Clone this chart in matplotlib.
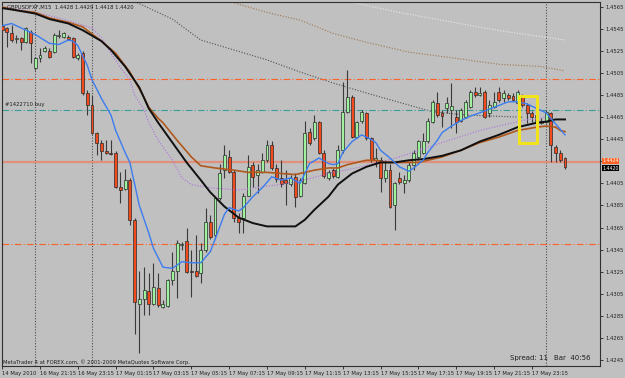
"""
Grafico de velas GBPUSD M15 al estilo MetaTrader 4.
"""

import matplotlib
matplotlib.use("Agg")
import matplotlib.pyplot as plt
import matplotlib.transforms as mtransforms
import numpy as np

# velas (una por barra de 15 minutos)
opens = [1.4548, 1.4546, 1.4541, 1.4536, 1.4537, 1.4533, 1.4542, 1.4510, 1.4519, 1.4525,
         1.4525, 1.4524, 1.4539, 1.4538, 1.4538, 1.4537, 1.4519, 1.4523, 1.4487, 1.4476,
         1.4451, 1.4442, 1.4434, 1.4433, 1.4433, 1.4402, 1.4400, 1.4408, 1.4372, 1.4296,
         1.4300, 1.4307, 1.4296, 1.4310, 1.4293, 1.4294, 1.4317, 1.4326, 1.4349, 1.4353,
         1.4326, 1.4326, 1.4324, 1.4345, 1.4370, 1.4358, 1.4392, 1.4417, 1.4429, 1.4415,
         1.4374, 1.4374, 1.4394, 1.4422, 1.4413, 1.4415, 1.4426, 1.4440, 1.4419, 1.4410,
         1.4408, 1.4404, 1.4411, 1.4394, 1.4405, 1.4452, 1.4446, 1.4461, 1.4433, 1.4410,
         1.4417, 1.4411, 1.4435, 1.4470, 1.4483, 1.4447, 1.4462, 1.4469, 1.4446, 1.4426,
         1.4426, 1.4410, 1.4417, 1.4385, 1.4410, 1.4405, 1.4408, 1.4422, 1.4429, 1.4433,
         1.4443, 1.4461, 1.4478, 1.4469, 1.4473, 1.4472, 1.4465, 1.4462, 1.4465, 1.4474,
         1.4488, 1.4485, 1.4488, 1.4469, 1.4474, 1.4488, 1.4482, 1.4485, 1.4484, 1.4478,
         1.4484, 1.4476, 1.4469, 1.4461, 1.4460, 1.4461, 1.4469, 1.4438, 1.4433, 1.4428]

highs = [1.4551, 1.4547, 1.4549, 1.4540, 1.4538, 1.4547, 1.4544, 1.4520, 1.4528, 1.4530,
         1.4528, 1.4541, 1.4544, 1.4542, 1.4540, 1.4538, 1.4523, 1.4525, 1.4490, 1.4485,
         1.4452, 1.4444, 1.4444, 1.4444, 1.4434, 1.4415, 1.4418, 1.4410, 1.4374, 1.4326,
         1.4329, 1.4324, 1.4333, 1.4324, 1.4299, 1.4318, 1.4343, 1.4354, 1.4352, 1.4365,
         1.4345, 1.4358, 1.4351, 1.4383, 1.4376, 1.4393, 1.4423, 1.4440, 1.4435, 1.4417,
         1.4378, 1.4396, 1.4431, 1.4424, 1.4423, 1.4433, 1.4444, 1.4443, 1.4423, 1.4426,
         1.4417, 1.4413, 1.4414, 1.4410, 1.4462, 1.4455, 1.4467, 1.4462, 1.4435, 1.4417,
         1.4419, 1.4440, 1.4497, 1.4508, 1.4485, 1.4462, 1.4472, 1.4470, 1.4447, 1.4437,
         1.4429, 1.4426, 1.4423, 1.4406, 1.4415, 1.4413, 1.4424, 1.4435, 1.4444, 1.4451,
         1.4464, 1.4481, 1.4488, 1.4472, 1.4483, 1.4496, 1.4472, 1.4473, 1.4481, 1.4490,
         1.4492, 1.4492, 1.4490, 1.4481, 1.4488, 1.4492, 1.4490, 1.4487, 1.4487, 1.4490,
         1.4486, 1.4478, 1.4471, 1.4469, 1.4464, 1.4472, 1.4470, 1.4440, 1.4435, 1.4429]

lows = [1.4540, 1.4529, 1.4533, 1.4532, 1.4526, 1.4532, 1.4514, 1.4508, 1.4515, 1.4524,
        1.4519, 1.4523, 1.4537, 1.4537, 1.4535, 1.4519, 1.4517, 1.4485, 1.4467, 1.4450,
        1.4431, 1.4426, 1.4432, 1.4431, 1.4401, 1.4387, 1.4399, 1.4367, 1.4268, 1.4251,
        1.4286, 1.4286, 1.4295, 1.4293, 1.4292, 1.4293, 1.4313, 1.4301, 1.4345, 1.4324,
        1.4302, 1.4320, 1.4315, 1.4343, 1.4355, 1.4355, 1.4390, 1.4410, 1.4414, 1.4370,
        1.4360, 1.4360, 1.4394, 1.4402, 1.4396, 1.4414, 1.4424, 1.4417, 1.4406, 1.4402,
        1.4385, 1.4403, 1.4384, 1.4393, 1.4404, 1.4440, 1.4444, 1.4432, 1.4410, 1.4408,
        1.4410, 1.4410, 1.4433, 1.4469, 1.4446, 1.4446, 1.4460, 1.4444, 1.4424, 1.4420,
        1.4397, 1.4406, 1.4383, 1.4363, 1.4404, 1.4396, 1.4406, 1.4417, 1.4426, 1.4432,
        1.4442, 1.4460, 1.4465, 1.4456, 1.4469, 1.4455, 1.4451, 1.4461, 1.4464, 1.4473,
        1.4483, 1.4484, 1.4464, 1.4465, 1.4473, 1.4479, 1.4479, 1.4481, 1.4480, 1.4476,
        1.4474, 1.4460, 1.4461, 1.4460, 1.4459, 1.4460, 1.4424, 1.4424, 1.4424, 1.4418]

closes = [1.4544, 1.4542, 1.4535, 1.4537, 1.4533, 1.4546, 1.4532, 1.4519, 1.4521, 1.4528,
          1.4520, 1.4540, 1.4540, 1.4541, 1.4536, 1.4520, 1.4521, 1.4487, 1.4476, 1.4451,
          1.4442, 1.4434, 1.4433, 1.4432, 1.4402, 1.4399, 1.4408, 1.4372, 1.4297, 1.4300,
          1.4308, 1.4296, 1.4311, 1.4295, 1.4296, 1.4317, 1.4326, 1.4351, 1.4350, 1.4325,
          1.4325, 1.4321, 1.4345, 1.4370, 1.4356, 1.4392, 1.4414, 1.4431, 1.4415, 1.4374,
          1.4370, 1.4394, 1.4420, 1.4411, 1.4417, 1.4426, 1.4440, 1.4419, 1.4409, 1.4404,
          1.4405, 1.4410, 1.4393, 1.4408, 1.4451, 1.4442, 1.4461, 1.4433, 1.4412, 1.4415,
          1.4412, 1.4435, 1.4470, 1.4483, 1.4447, 1.4461, 1.4470, 1.4446, 1.4426, 1.4428,
          1.4410, 1.4417, 1.4384, 1.4405, 1.4406, 1.4408, 1.4422, 1.4433, 1.4443, 1.4443,
          1.4462, 1.4479, 1.4467, 1.4466, 1.4478, 1.4475, 1.4461, 1.4472, 1.4479, 1.4488,
          1.4485, 1.4487, 1.4465, 1.4476, 1.4479, 1.4481, 1.4487, 1.4482, 1.4481, 1.4488,
          1.4476, 1.4469, 1.4465, 1.4467, 1.4462, 1.4470, 1.4440, 1.4433, 1.4426, 1.4420]

# medias moviles (barra, precio)
azul_x = [0, 2, 4, 7, 10, 12, 14, 15, 16, 18, 19, 21, 23, 24, 26, 27, 29, 31, 32, 34,
          36, 38, 40, 42, 44, 45, 47, 48, 50, 51, 53, 55, 57, 59, 61, 63, 64, 65, 67, 69,
          70, 71, 72, 73, 74, 76, 78, 79, 80, 82, 84, 86, 87, 89, 90, 92, 93, 95, 97, 99,
          101, 104, 107, 109, 111, 113, 115, 116, 117, 118, 119]
azul_y = [1.4548, 1.4550, 1.4546, 1.4540, 1.4532, 1.4531, 1.4535, 1.4534, 1.4530, 1.4512,
          1.4499, 1.4482, 1.4467, 1.4453, 1.4433, 1.4424, 1.4385, 1.4360, 1.4346, 1.4329,
          1.4328, 1.4334, 1.4333, 1.4333, 1.4343, 1.4354, 1.4377, 1.4383, 1.4380, 1.4383,
          1.4393, 1.4401, 1.4411, 1.4408, 1.4410, 1.4405, 1.4414, 1.4423, 1.4428, 1.4423,
          1.4422, 1.4423, 1.4433, 1.4438, 1.4443, 1.4449, 1.4445, 1.4442, 1.4435, 1.4428,
          1.4420, 1.4416, 1.4419, 1.4426, 1.4433, 1.4444, 1.4451, 1.4457, 1.4462, 1.4466,
          1.4469, 1.4474, 1.4479, 1.4479, 1.4477, 1.4473, 1.4469, 1.4464, 1.4459, 1.4454,
          1.4449]

marron_x = [0, 3, 7, 10, 14, 17, 21, 24, 27, 30, 31, 33, 34, 37, 40, 42, 45, 49, 52, 56,
            59, 62, 64, 66, 69, 71, 73, 75, 77, 79, 81, 84, 88, 93, 97, 101, 105, 109, 113,
            115, 117, 118, 119]
marron_y = [1.4565, 1.4562, 1.4560, 1.4555, 1.4551, 1.4547, 1.4534, 1.4523, 1.4506, 1.4483,
            1.4474, 1.4464, 1.4460, 1.4444, 1.4429, 1.4421, 1.4419, 1.4417, 1.4415, 1.4415,
            1.4414, 1.4413, 1.4415, 1.4417, 1.4419, 1.4419, 1.4422, 1.4424, 1.4426, 1.4426,
            1.4424, 1.4424, 1.4424, 1.4429, 1.4435, 1.4442, 1.4447, 1.4453, 1.4456, 1.4457,
            1.4456, 1.4453, 1.4452]

negro_x = [0, 3, 7, 10, 14, 17, 21, 23, 26, 29, 31, 33, 36, 39, 42, 44, 47, 50, 53, 56,
           59, 62, 64, 66, 69, 71, 74, 77, 80, 83, 86, 89, 93, 97, 101, 105, 109, 113, 115,
           117, 119]
negro_y = [1.4564, 1.4562, 1.4559, 1.4554, 1.4550, 1.4544, 1.4534, 1.4526, 1.4511, 1.4492,
           1.4473, 1.4460, 1.4442, 1.4424, 1.4408, 1.4397, 1.4384, 1.4374, 1.4369, 1.4366,
           1.4366, 1.4366, 1.4372, 1.4381, 1.4393, 1.4404, 1.4414, 1.4420, 1.4424, 1.4424,
           1.4426, 1.4427, 1.4430, 1.4435, 1.4443, 1.4449, 1.4456, 1.4460, 1.4461, 1.4463,
           1.4463]

morado_x = [0, 6, 12, 19, 21, 23, 25, 27, 28, 30, 31, 33, 36, 38, 40, 44, 50, 57, 63, 69,
            76, 84, 93, 101, 110, 115]
morado_y = [1.4565, 1.4561, 1.4555, 1.4546, 1.4537, 1.4523, 1.4510, 1.4499, 1.4485, 1.4472,
            1.4460, 1.4444, 1.4426, 1.4410, 1.4404, 1.4401, 1.4399, 1.4403, 1.4407, 1.4414,
            1.4420, 1.4429, 1.4442, 1.4453, 1.4462, 1.4465]

gris_x = [28, 36, 42, 49, 56, 63, 70, 77, 86, 91, 98, 104, 110]
gris_y = [1.4570, 1.4554, 1.4535, 1.4526, 1.4517, 1.4506, 1.4496, 1.4487, 1.4476, 1.4470,
          1.4467, 1.4466, 1.4465]

tostado_x = [48, 56, 63, 70, 77, 86, 95, 105, 114, 119]
tostado_y = [1.4570, 1.4560, 1.4553, 1.4541, 1.4533, 1.4524, 1.4519, 1.4513, 1.4511, 1.4507]

claro_x = [73, 84, 98, 106, 119]
claro_y = [1.4570, 1.4560, 1.4549, 1.4543, 1.4535]

# lineas horizontales y objetos
nivel_naranja = [1.4500, 1.4350]
nivel_orden = 1.4472
nivel_ask = 1.4424
separadores = [7, 19, 115]
caja_barras = [109.3, 113.1]
caja_precios = [1.4442, 1.4484]

eje_y = [1.4565, 1.4545, 1.4525, 1.4505, 1.4485, 1.4465, 1.4445, 1.4425, 1.4405,
         1.4385, 1.4365, 1.4345, 1.4325, 1.4305, 1.4285, 1.4265, 1.4245]
eje_x = [0, 8, 16, 24, 32, 40, 48, 56, 64, 72, 80, 88, 96, 104, 112]
etiquetas_x = ["14 May 2010", "16 May 21:15", "16 May 23:15", "17 May 01:15",
               "17 May 03:15", "17 May 05:15", "17 May 07:15", "17 May 09:15",
               "17 May 11:15", "17 May 13:15", "17 May 15:15", "17 May 17:15",
               "17 May 19:15", "17 May 21:15", "17 May 23:15"]

fondo = "#c0c0c0"
fs = 3.8

fig = plt.figure(figsize=(6.25, 3.78), dpi=100, facecolor=fondo)
ax = fig.add_axes([2 / 625, 12 / 378, 598 / 625, 364 / 378])
ax.set_facecolor(fondo)

o = np.array(opens)
h = np.array(highs)
l = np.array(lows)
c = np.array(closes)
x = np.arange(len(o))
sube = c >= o

# velas
ax.vlines(x, l, h, color="#3a3a3a", lw=0.8, zorder=3)
base = np.minimum(o, c)
alto = np.maximum(np.abs(c - o), 0.00003)
ax.bar(x[sube], alto[sube], bottom=base[sube], width=0.62,
       color="#9ef29e", edgecolor="#2a2a2a", lw=0.5, zorder=4)
ax.bar(x[~sube], alto[~sube], bottom=base[~sube], width=0.62,
       color="#f04a1e", edgecolor="#2a2a2a", lw=0.5, zorder=4)

# medias moviles
ax.plot(claro_x, claro_y, color="#e8e8e8", ls=(0, (1, 1.5)), lw=0.8, zorder=2)
ax.plot(tostado_x, tostado_y, color="#a07650", ls=(0, (1, 1.5)), lw=0.8, zorder=2)
ax.plot(gris_x, gris_y, color="#505050", ls=(0, (1, 1.5)), lw=0.8, zorder=2)
ax.plot(morado_x, morado_y, color="#b070e0", ls=(0, (1, 1.5)), lw=0.8, zorder=5)
ax.plot(marron_x, marron_y, color="#b0581c", lw=1.2, zorder=5)
ax.plot(negro_x, negro_y, color="#101010", lw=1.4, zorder=5)
ax.plot(azul_x, azul_y, color="#3c7cf0", lw=1.0, zorder=6)

# niveles
for nivel in nivel_naranja:
    ax.axhline(nivel, color="#ff6226", ls=(0, (6, 2, 1, 2)), lw=0.8, zorder=2)
ax.axhline(nivel_orden, color="#3c9c98", ls=(0, (6, 2, 1, 2)), lw=0.8, zorder=2)
ax.axhline(nivel_ask, color="#e0907c", lw=1.6, zorder=2)
for s in separadores:
    ax.axvline(s, color="#505050", ls=(0, (1, 1.5)), lw=0.8, zorder=1)

ax.plot([caja_barras[0], caja_barras[1], caja_barras[1], caja_barras[0], caja_barras[0]],
        [caja_precios[0], caja_precios[0], caja_precios[1], caja_precios[1], caja_precios[0]],
        color="#f2e41a", lw=2.2, zorder=7)

ax.text(0.6, nivel_orden + 0.0002, "#1422710 buy", fontsize=fs,
        color="#202020", va="bottom", zorder=8)

ax.set_xlim(-0.03, 126.4)
ax.set_ylim(1.42394, 1.45695)

# la etiqueta 1.4425 queda tapada por las cajas de precio
ax.yaxis.tick_right()
ax.set_yticks(eje_y)
ax.set_yticklabels(["" if v == 1.4425 else f"{v:.4f}" for v in eje_y])
ax.set_xticks(eje_x)
ax.set_xticklabels(etiquetas_x, ha="left")
ax.tick_params(axis="y", length=2.5, width=0.6, pad=1.5, labelsize=fs,
               colors="#202020")
ax.tick_params(axis="x", length=2.5, width=0.6, pad=0.8, labelsize=fs,
               colors="#202020")
for lado in ax.spines.values():
    lado.set_color("#303030")
    lado.set_linewidth(0.8)

# cajas de precio
mezcla = mtransforms.blended_transform_factory(ax.transAxes, ax.transData)
ax.text(1.004, nivel_ask + 0.00017, f"{nivel_ask:.4f}", transform=mezcla, fontsize=3.4,
        color="white", va="center", ha="left", clip_on=False, zorder=10,
        bbox=dict(boxstyle="square,pad=0.1", fc="#ff6226", ec="none"))
ax.text(1.004, c[-1] - 0.00012, f"{c[-1]:.4f}", transform=mezcla, fontsize=3.4,
        color="white", va="center", ha="left", clip_on=False, zorder=11,
        bbox=dict(boxstyle="square,pad=0.1", fc="#000000", ec="none"))

titulo = f"GBPUSDFXF,M15  {o[-1]:.4f} {h[-1]:.4f} {l[-1]:.4f} {c[-1]:.4f}"
ax.text(0.008, 0.986, titulo, transform=ax.transAxes, fontsize=fs,
        color="#202020", va="center", zorder=8)
ax.text(0.002, 0.011, "MetaTrader 4 at FOREX.com, \u00a9 2001-2009 MetaQuotes Software Corp.",
        transform=ax.transAxes, fontsize=fs, color="#202020", va="center", zorder=8)
ax.text(0.849, 0.022, "Spread: 11", transform=ax.transAxes, fontsize=5,
        color="#202020", va="center", zorder=8)
ax.text(0.923, 0.022, "Bar  40:56", transform=ax.transAxes, fontsize=5,
        color="#202020", va="center", zorder=8)

plt.savefig("out.png", dpi=100, facecolor=fondo)
plt.close()
